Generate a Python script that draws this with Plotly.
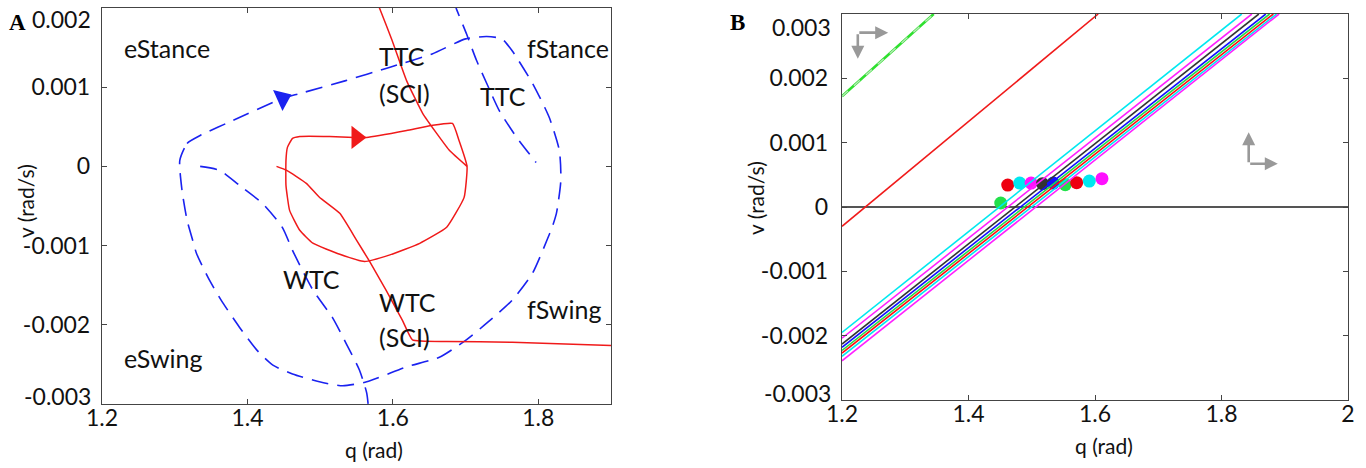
import plotly.graph_objects as go

# ---------------- Panel A: phase-plane trajectories ----------------
# outer intact-cycle loop (dashed blue), clockwise from the left edge
loop_q = [1.307, 1.317, 1.335, 1.380, 1.448, 1.472, 1.534, 1.595, 1.654, 1.700, 1.729,
          1.750, 1.764, 1.792, 1.815, 1.829, 1.831, 1.825, 1.819, 1.812, 1.792, 1.764,
          1.729, 1.701, 1.664, 1.619, 1.564, 1.531, 1.499, 1.462, 1.435, 1.413, 1.389,
          1.366, 1.348, 1.330, 1.324, 1.317, 1.310, 1.307]
loop_v = [0.000076, 0.00029, 0.00039, 0.00058, 0.000858, 0.00092, 0.00108, 0.00125,
          0.00142, 0.00161, 0.00164, 0.00161, 0.00146, 0.00105, 0.00062, 0.0002,
          -0.000177, -0.00059, -0.00077, -0.00093, -0.00135, -0.00169, -0.00198,
          -0.00219, -0.00241, -0.00253, -0.00272, -0.00277, -0.00272, -0.00262,
          -0.00251, -0.00232, -0.00203, -0.00172, -0.00144, -0.0011, -0.00091,
          -0.00068, -0.0003, 0.000076]

# WTC switching boundary (dashed blue)
wtc_q = [1.335, 1.362, 1.389, 1.421, 1.448, 1.462, 1.490, 1.517, 1.536, 1.554, 1.564, 1.567]
wtc_v = [0.0, -0.00005, -0.00024, -0.00047, -0.00077, -0.00106, -0.00156, -0.00191,
         -0.00224, -0.00257, -0.00286, -0.0031]

# TTC switching boundary (dashed blue)
ttc_q = [1.684, 1.687, 1.701, 1.715, 1.729, 1.746, 1.770, 1.797]
ttc_v = [0.0021, 0.002, 0.00168, 0.00134, 0.00105, 0.00071, 0.00037, 0.00005]

# post-SCI loop (solid red)
sci_q = [1.462, 1.472, 1.513, 1.547, 1.564, 1.619, 1.653, 1.682, 1.691, 1.702, 1.698,
         1.674, 1.637, 1.595, 1.561, 1.527, 1.490, 1.472, 1.458, 1.453, 1.453, 1.455, 1.462]
sci_v = [0.000353, 0.000378, 0.000378, 0.000366, 0.000366, 0.000454, 0.000517, 0.000542,
         0.000328, 0.0, -0.000391, -0.000769, -0.000971, -0.00112, -0.0012, -0.00111,
         -0.00097, -0.000807, -0.000555, -0.00024, 0.000076, 0.00024, 0.000353]

# TTC (SCI) boundary (solid red)
ttc_sci_q = [1.577, 1.582, 1.599, 1.619, 1.641, 1.660, 1.678, 1.702]
ttc_sci_v = [0.0021, 0.00199, 0.00159, 0.00108, 0.00067, 0.00042, 0.0002, 0.0]

# WTC (SCI) boundary (solid red)
wtc_sci_q = [1.440, 1.454, 1.481, 1.499, 1.527, 1.550, 1.568, 1.591, 1.613, 1.627,
             1.674, 1.764, 1.900]
wtc_sci_v = [0.0, -0.00005, -0.000214, -0.00039, -0.000593, -0.00093, -0.0012, -0.00157,
             -0.00194, -0.00219, -0.00221, -0.00222, -0.00226]

# direction markers (q, v, heading angle in degrees)
blue_arrow = (1.448, 0.000858, -24)
red_arrow = (1.550, 0.000366, 0)

# region / boundary labels: (text, q, v)
labels_a = [("eStance", 1.2275, 0.00149), ("fStance", 1.782, 0.00149),
            ("TTC", 1.5775, 0.00139), ("(SCI)", 1.5775, 0.00093),
            ("TTC", 1.7175, 0.000895), ("WTC", 1.4457, -0.001425),
            ("WTC", 1.5775, -0.00171), ("(SCI)", 1.5775, -0.00216),
            ("fSwing", 1.782, -0.0018), ("eSwing", 1.2275, -0.00242)]

a_xticks = [1.2, 1.4, 1.6, 1.8]
a_xtext = ["1.2", "1.4", "1.6", "1.8"]
a_yticks = [0.002, 0.001, 0.0, -0.001, -0.002, -0.003]
a_ytext = ["0.002", "0.001", "0", "-0.001", "-0.002", "-0.003"]

# ---------------- Panel B: switching lines and fixed points ----------------
# each line: start v at q = 1.2, and q where it reaches v = 0.003
b_line_colors = ["#00e8f0", "#ff20ff", "#333333", "#1010ff", "#22dd44", "#ff1010",
                 "#00e8f0", "#ff20ff"]
b_line_v0 = [-0.00195, -0.00204, -0.00213, -0.00218, -0.00223, -0.00227, -0.00232, -0.00239]
b_line_q1 = [1.832, 1.848, 1.859, 1.870, 1.876, 1.882, 1.887, 1.891]

red_line_v0, red_line_q1 = -0.00030, 1.605
green_line_v0, green_line_q1 = 0.00172, 1.345

dot_q = [1.451, 1.462, 1.481, 1.499, 1.517, 1.534, 1.553, 1.571, 1.591, 1.611]
dot_v = [0.000062, 0.000341, 0.000372, 0.000372, 0.000362, 0.000372, 0.000347,
         0.000378, 0.000403, 0.00044]
dot_colors = ["#22e04a", "#ee0010", "#00e8f0", "#ff10ff", "#333333", "#1010ff",
              "#22e04a", "#ee0010", "#00e8f0", "#ff10ff"]

# gray direction glyphs: corner (q, v) and the two arrow tips (q, v)
glyph_corners = [(1.225, 0.00271), (1.843, 0.000673)]
glyph_tips = [[(1.273, 0.00271), (1.225, 0.002305)],
              [(1.843, 0.001163), (1.889, 0.000673)]]

b_xticks = [1.2, 1.4, 1.6, 1.8, 2.0]
b_xtext = ["1.2", "1.4", "1.6", "1.8", "2"]
b_yticks = [0.003, 0.002, 0.001, 0.0, -0.001, -0.002, -0.003]
b_ytext = ["0.003", "0.002", "0.001", "0", "-0.001", "-0.002", "-0.003"]

FONT = "Lato"
BLUE = "#1a22f0"
RED = "#f01a1a"
FRAME = "#444444"
TICK_SIZE = 23

# panel geometry (paper pixels)
A_X = (102, 611)
A_Y = (8, 404)
B_X = (842, 1348)
B_Y = (14, 400)
W, H = 1366, 468


def px(x):
    return x / W


def py(y):
    return 1 - y / H


fig = go.Figure()

dash_style = "17px,9px"
for qs, vs in [(loop_q, loop_v), (wtc_q, wtc_v), (ttc_q, ttc_v)]:
    fig.add_trace(go.Scatter(x=qs, y=vs, mode="lines", xaxis="x", yaxis="y",
                             line=dict(color=BLUE, width=1.6, dash=dash_style,
                                       shape="spline", smoothing=0.6)))
for qs, vs in [(sci_q, sci_v), (ttc_sci_q, ttc_sci_v), (wtc_sci_q, wtc_sci_v)]:
    fig.add_trace(go.Scatter(x=qs, y=vs, mode="lines", xaxis="x", yaxis="y",
                             line=dict(color=RED, width=1.5, shape="spline", smoothing=0.4)))

for (q, v, ang), col in [(blue_arrow, BLUE), (red_arrow, RED)]:
    fig.add_trace(go.Scatter(x=[q], y=[v], mode="markers", xaxis="x", yaxis="y",
                             marker=dict(symbol="triangle-right", size=20, color=col,
                                         angle=ang, line=dict(width=0))))

# panel B: fixed points first, switching lines drawn over them
fig.add_trace(go.Scatter(x=dot_q, y=dot_v, mode="markers", xaxis="x2", yaxis="y2",
                         marker=dict(size=13, color=dot_colors, line=dict(width=0))))

fig.add_trace(go.Scatter(x=[1.2, green_line_q1], y=[green_line_v0, 0.003], mode="lines",
                         xaxis="x2", yaxis="y2", line=dict(color="#2ee02e", width=2.6)))
fig.add_trace(go.Scatter(x=[1.2, green_line_q1], y=[green_line_v0, 0.003], mode="lines",
                         xaxis="x2", yaxis="y2",
                         line=dict(color="#b8e8b8", width=1.4, dash="8px,8px")))
fig.add_trace(go.Scatter(x=[1.2, red_line_q1], y=[red_line_v0, 0.003], mode="lines",
                         xaxis="x2", yaxis="y2", line=dict(color=RED, width=1.6)))
for col, v0, q1 in zip(b_line_colors, b_line_v0, b_line_q1):
    fig.add_trace(go.Scatter(x=[1.2, q1], y=[v0, 0.003], mode="lines",
                             xaxis="x2", yaxis="y2", line=dict(color=col, width=1.6)))

axis_common = dict(showgrid=False, showline=True, linecolor=FRAME, linewidth=1.4,
                   mirror="allticks", ticks="inside", ticklen=5, tickcolor=FRAME,
                   tickwidth=1.2, tickfont=dict(family=FONT, size=TICK_SIZE, color="#111111"),
                   tickmode="array", fixedrange=True, automargin=False)

# the outermost y labels sit slightly inside the frame, so they are placed as text below
a_ytext_axis = [""] + a_ytext[1:-1] + [""]
b_ytext_axis = [""] + b_ytext[1:-1] + [""]

fig.update_layout(
    width=W, height=H, margin=dict(l=0, r=0, t=0, b=0, autoexpand=False),
    paper_bgcolor="white", plot_bgcolor="white", showlegend=False,
    xaxis=dict(domain=[px(A_X[0]), px(A_X[1])], range=[1.2, 1.9], anchor="y",
               tickvals=a_xticks, ticktext=a_xtext, zeroline=False,
               ticklabelstandoff=-7, **axis_common),
    yaxis=dict(domain=[py(A_Y[1]), py(A_Y[0])], range=[-0.003, 0.002], anchor="x",
               tickvals=a_yticks, ticktext=a_ytext_axis, zeroline=False,
               ticklabelstandoff=6, **axis_common),
    xaxis2=dict(domain=[px(B_X[0]), px(B_X[1])], range=[1.2, 2.0], anchor="y2",
                tickvals=b_xticks, ticktext=b_xtext, zeroline=False,
                ticklabelstandoff=-7, **axis_common),
    yaxis2=dict(domain=[py(B_Y[1]), py(B_Y[0])], range=[-0.003, 0.003], anchor="x2",
                tickvals=b_yticks, ticktext=b_ytext_axis, zeroline=True,
                zerolinecolor="#555555", zerolinewidth=1.5,
                ticklabelstandoff=8, **axis_common),
)

ann = []
for txt, q, v in labels_a:
    ann.append(dict(text=txt, x=q, y=v, xref="x", yref="y", xanchor="left",
                    yanchor="middle", showarrow=False,
                    font=dict(family=FONT, size=25, color="#111111")))

tick_font = dict(family=FONT, size=TICK_SIZE, color="#111111")
# outermost y tick labels: (text, right edge x, centre y) in paper pixels
edge_labels = [(a_ytext[0], 93, 19), (a_ytext[-1], 93, 396),
               (b_ytext[0], 833, 27), (b_ytext[-1], 833, 393)]
for txt, x, y in edge_labels:
    ann.append(dict(text=txt, x=px(x), y=py(y), xref="paper", yref="paper",
                    xanchor="right", yanchor="middle", showarrow=False, font=tick_font))

title_font = dict(family=FONT, size=21, color="#111111")
serif_font = dict(family="Liberation Serif", size=23, color="black")
for txt, x, y, ang, fnt in [("q (rad)", 374, 449, 0, title_font),
                            ("v (rad/s)", 25, 201, -90, title_font),
                            ("q (rad)", 1104, 445, 0, title_font),
                            ("v (rad/s)", 755, 198, -90, title_font),
                            ("<b>A</b>", 17, 22, 0, serif_font),
                            ("<b>B</b>", 737, 22, 0, serif_font)]:
    ann.append(dict(text=txt, x=px(x), y=py(y), xref="paper", yref="paper",
                    xanchor="center", yanchor="middle", showarrow=False,
                    textangle=ang, font=fnt))

ARROW_GRAY = "#999999"
for (cq, cv), tips in zip(glyph_corners, glyph_tips):
    for tq, tv in tips:
        ann.append(dict(x=tq, y=tv, xref="x2", yref="y2", ax=cq, ay=cv,
                        axref="x2", ayref="y2", showarrow=True, text="",
                        arrowhead=2, arrowsize=1.0, arrowwidth=2.6, arrowcolor=ARROW_GRAY,
                        standoff=0, startstandoff=0))
fig.update_layout(annotations=ann)

fig.write_html("out.html")
